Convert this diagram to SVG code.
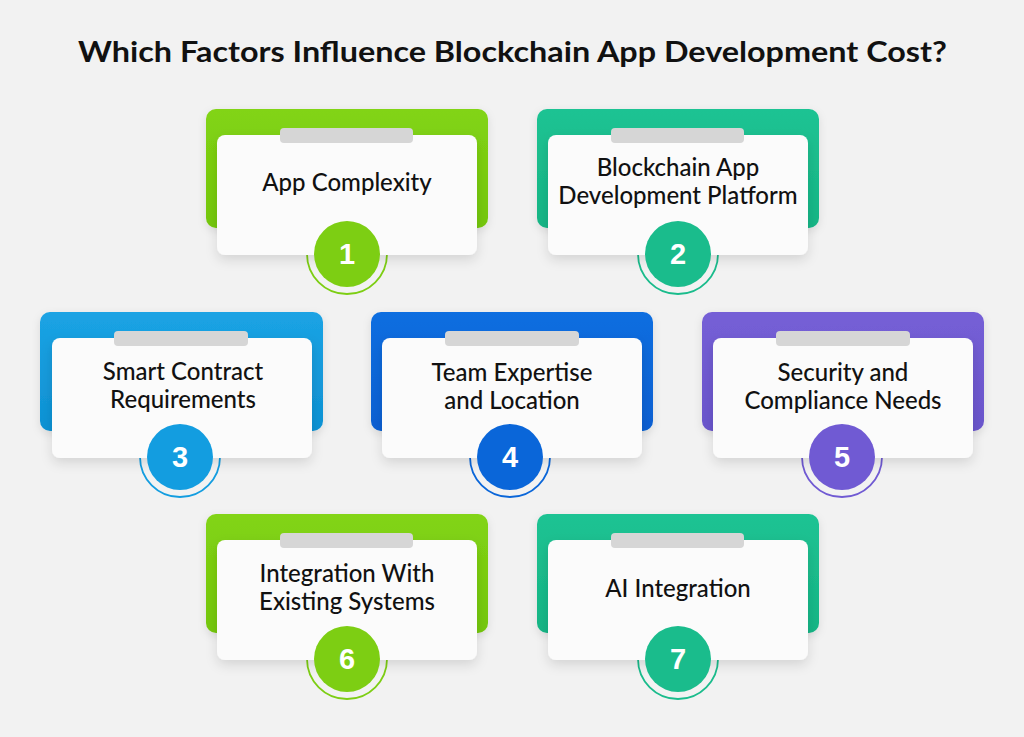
<svg xmlns="http://www.w3.org/2000/svg" width="1024" height="737" viewBox="0 0 1024 737">
<defs>
<style>
.title{font-family:Lato,"Liberation Sans",sans-serif;font-weight:700;font-size:29px;fill:#111;}
.lbl{font-family:Lato,"Liberation Sans",sans-serif;font-weight:500;font-size:24px;fill:#111;text-anchor:middle;}
.num{font-family:"Liberation Sans",Arial,sans-serif;font-weight:700;font-size:29px;fill:#fff;text-anchor:middle;}
.card{fill:#fbfbfb;}
.bar{fill:#d6d6d6;}
.ring{fill:none;stroke-width:1.8;}
</style>
<filter id="sh" x="-20%" y="-20%" width="140%" height="160%">
<feDropShadow dx="0" dy="5" stdDeviation="6" flood-color="#000" flood-opacity="0.12"/>
</filter>
<filter id="sh2" x="-20%" y="-20%" width="140%" height="160%">
<feDropShadow dx="0" dy="3" stdDeviation="4" flood-color="#000" flood-opacity="0.10"/>
</filter>
<linearGradient id="gGreen" x1="0" y1="0" x2="0" y2="1"><stop offset="0" stop-color="#82d414"/><stop offset="1" stop-color="#74c70c"/></linearGradient>
<linearGradient id="gTeal" x1="0" y1="0" x2="0" y2="1"><stop offset="0" stop-color="#1fc393"/><stop offset="1" stop-color="#15b585"/></linearGradient>
<linearGradient id="gSky" x1="0" y1="0" x2="0" y2="1"><stop offset="0" stop-color="#1ba3e4"/><stop offset="1" stop-color="#0e92d4"/></linearGradient>
<linearGradient id="gBlue" x1="0" y1="0" x2="0" y2="1"><stop offset="0" stop-color="#0e6ee0"/><stop offset="1" stop-color="#0760d2"/></linearGradient>
<linearGradient id="gPurple" x1="0" y1="0" x2="0" y2="1"><stop offset="0" stop-color="#755fd6"/><stop offset="1" stop-color="#6a55cc"/></linearGradient>
</defs>
<rect width="1024" height="737" fill="#f2f2f2"/>
<text class="title" x="78" y="62" textLength="869" lengthAdjust="spacingAndGlyphs">Which Factors Influence Blockchain App Development Cost?</text>

<g id="node1" transform="translate(206,109)">
<rect x="0" y="0" width="282" height="119" rx="10" fill="url(#gGreen)" filter="url(#sh2)"/>
<circle class="ring" cx="141" cy="145" r="40" stroke="#7dce13"/>
<rect class="card" x="11" y="26" width="260" height="120" rx="8" filter="url(#sh)"/>
<rect class="bar" x="74" y="19" width="133" height="15" rx="4"/>
<text class="lbl" x="141" y="82">App Complexity</text>
<circle cx="141" cy="145" r="33" fill="#7dce13"/>
<text class="num" x="141" y="155">1</text>
</g>

<g id="node2" transform="translate(537,109)">
<rect x="0" y="0" width="282" height="119" rx="10" fill="url(#gTeal)" filter="url(#sh2)"/>
<circle class="ring" cx="141" cy="145" r="40" stroke="#1abc8c"/>
<rect class="card" x="11" y="26" width="260" height="120" rx="8" filter="url(#sh)"/>
<rect class="bar" x="74" y="19" width="133" height="15" rx="4"/>
<text class="lbl" x="141" y="67">Blockchain App</text>
<text class="lbl" x="141" y="95">Development Platform</text>
<circle cx="141" cy="145" r="33" fill="#1abc8c"/>
<text class="num" x="141" y="155">2</text>
</g>

<g id="node3" transform="translate(40,312)">
<rect x="0" y="0" width="283" height="119" rx="10" fill="url(#gSky)" filter="url(#sh2)"/>
<circle class="ring" cx="140" cy="145" r="40" stroke="#139de0"/>
<rect class="card" x="12" y="26" width="260" height="120" rx="8" filter="url(#sh)"/>
<rect class="bar" x="74" y="19" width="134" height="15" rx="4"/>
<text class="lbl" x="143" y="68">Smart Contract</text>
<text class="lbl" x="143" y="96">Requirements</text>
<circle cx="140" cy="145" r="33" fill="#139de0"/>
<text class="num" x="140" y="155">3</text>
</g>

<g id="node4" transform="translate(371,312)">
<rect x="0" y="0" width="282" height="119" rx="10" fill="url(#gBlue)" filter="url(#sh2)"/>
<circle class="ring" cx="139" cy="145" r="40" stroke="#0a66d9"/>
<rect class="card" x="11" y="26" width="260" height="120" rx="8" filter="url(#sh)"/>
<rect class="bar" x="74" y="19" width="134" height="15" rx="4"/>
<text class="lbl" x="141" y="69">Team Expertise</text>
<text class="lbl" x="141" y="97">and Location</text>
<circle cx="139" cy="145" r="33" fill="#0a66d9"/>
<text class="num" x="139" y="155">4</text>
</g>

<g id="node5" transform="translate(702,312)">
<rect x="0" y="0" width="282" height="119" rx="10" fill="url(#gPurple)" filter="url(#sh2)"/>
<circle class="ring" cx="140" cy="145" r="40" stroke="#705ad3"/>
<rect class="card" x="11" y="26" width="260" height="120" rx="8" filter="url(#sh)"/>
<rect class="bar" x="74" y="19" width="134" height="15" rx="4"/>
<text class="lbl" x="141" y="69">Security and</text>
<text class="lbl" x="141" y="97">Compliance Needs</text>
<circle cx="140" cy="145" r="33" fill="#705ad3"/>
<text class="num" x="140" y="155">5</text>
</g>

<g id="node6" transform="translate(206,514)">
<rect x="0" y="0" width="282" height="119" rx="10" fill="url(#gGreen)" filter="url(#sh2)"/>
<circle class="ring" cx="141" cy="145" r="40" stroke="#7dce13"/>
<rect class="card" x="11" y="26" width="260" height="120" rx="8" filter="url(#sh)"/>
<rect class="bar" x="74" y="19" width="133" height="15" rx="4"/>
<text class="lbl" x="141" y="68">Integration With</text>
<text class="lbl" x="141" y="96">Existing Systems</text>
<circle cx="141" cy="145" r="33" fill="#7dce13"/>
<text class="num" x="141" y="155">6</text>
</g>

<g id="node7" transform="translate(537,514)">
<rect x="0" y="0" width="282" height="119" rx="10" fill="url(#gTeal)" filter="url(#sh2)"/>
<circle class="ring" cx="141" cy="145" r="40" stroke="#1abc8c"/>
<rect class="card" x="11" y="26" width="260" height="120" rx="8" filter="url(#sh)"/>
<rect class="bar" x="74" y="19" width="133" height="15" rx="4"/>
<text class="lbl" x="141" y="83">AI Integration</text>
<circle cx="141" cy="145" r="33" fill="#1abc8c"/>
<text class="num" x="141" y="155">7</text>
</g>

<g id="connectors"></g>
</svg>
